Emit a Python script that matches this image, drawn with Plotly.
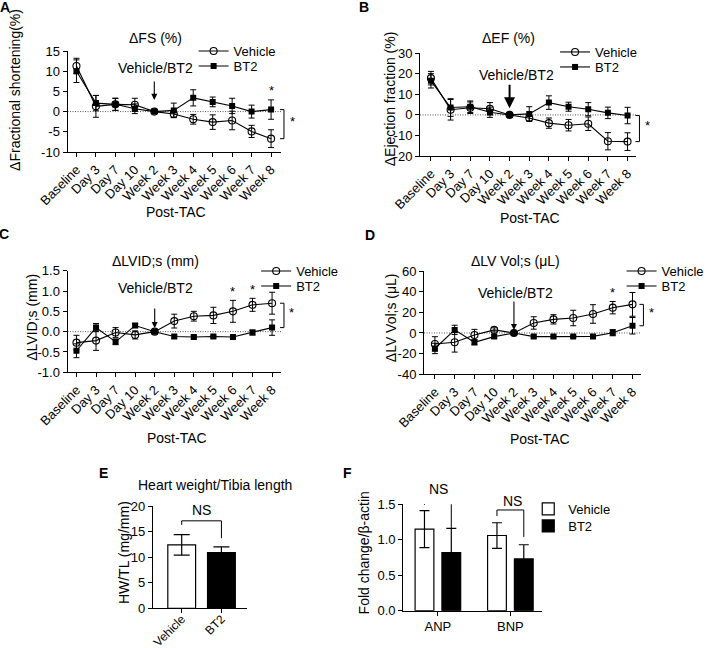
import plotly.graph_objects as go

W, H = 709, 648
FONT = "Liberation Sans, Arial, sans-serif"

# ---------------- data ----------------
timepoints = ["Baseline", "Day 3", "Day 7", "Day 10", "Week 2", "Week 3",
              "Week 4", "Week 5", "Week 6", "Week 7", "Week 8"]

fs_vehicle = [11.3, 1.3, 1.8, 1.7, 0.0, -0.6, -1.9, -2.6, -2.2, -4.9, -6.7]
fs_vehicle_err = [1.9, 2.7, 1.5, 1.6, 0.3, 0.8, 1.2, 1.8, 2.3, 1.5, 2.2]
fs_bt2 = [10.0, 2.1, 1.8, 0.7, 0.0, 0.3, 3.4, 2.4, 1.4, 0.0, 0.5]
fs_bt2_err = [2.8, 1.9, 1.5, 1.2, 0.3, 1.8, 2.0, 1.2, 1.9, 1.6, 2.4]

ef_vehicle = [17.9, 2.5, 3.5, 3.0, 0.0, -1.5, -4.0, -5.0, -4.3, -12.8, -13.0]
ef_vehicle_err = [3.3, 5.0, 2.8, 3.0, 0.5, 1.5, 2.5, 2.8, 3.3, 4.2, 4.3]
ef_bt2 = [16.6, 3.6, 4.0, 1.3, 0.0, 0.5, 6.0, 4.0, 2.8, 1.0, -0.3]
ef_bt2_err = [3.5, 4.3, 2.8, 2.5, 0.5, 3.5, 3.3, 2.2, 3.2, 2.8, 4.0]

lvid_vehicle = [-0.27, -0.22, -0.02, -0.08, 0.0, 0.26, 0.38, 0.40, 0.50, 0.66, 0.70]
lvid_vehicle_err = [0.18, 0.24, 0.12, 0.10, 0.02, 0.17, 0.12, 0.20, 0.27, 0.16, 0.27]
lvid_bt2 = [-0.47, 0.10, -0.25, 0.15, 0.0, -0.12, -0.13, -0.12, -0.13, -0.02, 0.10]
lvid_bt2_err = [0.17, 0.10, 0.07, 0.05, 0.02, 0.04, 0.04, 0.03, 0.04, 0.06, 0.19]

vol_vehicle = [-10.6, -9.0, -2.0, 3.0, 0.0, 9.7, 13.2, 14.5, 18.4, 24.5, 27.7]
vol_vehicle_err = [7.0, 9.5, 5.5, 2.0, 0.5, 6.0, 4.5, 7.5, 9.0, 6.0, 11.5]
vol_bt2 = [-15.0, 3.0, -9.0, -3.5, 0.0, -3.5, -3.5, -3.3, -3.3, 0.3, 7.0]
vol_bt2_err = [5.0, 4.5, 2.5, 1.5, 0.5, 1.5, 1.5, 1.0, 1.5, 3.0, 8.0]

hw_groups = ["Vehicle", "BT2"]
hw_means = [12.4, 10.9]
hw_err = [2.0, 1.1]

genes = ["ANP", "BNP"]
gene_vehicle = [1.15, 1.06]
gene_vehicle_err = [0.26, 0.18]
gene_bt2 = [0.82, 0.73]
gene_bt2_err = [0.34, 0.20]

fs_ticks = [-10, -5, 0, 5, 10, 15]
ef_ticks = [-20, -10, 0, 10, 20, 30]
lvid_ticks = [-1.0, -0.5, 0.0, 0.5, 1.0, 1.5]
vol_ticks = [-40, -20, 0, 20, 40, 60]
hw_ticks = [0, 5, 10, 15, 20]
gene_ticks = [0.0, 0.5, 1.0, 1.5]


def tick_text(vals, dec=0):
    return [(f"{v:.{dec}f}") for v in vals]


# ---------------- layout helpers (pixels -> paper) ----------------
def px(x):
    return x / W


def py(y):
    return 1 - y / H


def dom_x(a, b):
    return [a / W, b / W]


def dom_y(top, bottom):
    return [1 - bottom / H, 1 - top / H]


def cat_range(left, right, first, step):
    return [(left - first) / step, (right - first) / step]


panels = {
    "A": dict(ax="", left=68, right=283, first=77, step=19.6, top=51, bottom=152, yr=[-10, 15]),
    "B": dict(ax="2", left=423, right=641, first=434, step=19.8, top=53.3, bottom=156, yr=[-20, 30]),
    "C": dict(ax="3", left=68, right=283, first=77, step=19.7, top=270.7, bottom=372.3, yr=[-1, 1.5]),
    "D": dict(ax="4", left=427, right=646, first=438, step=19.9, top=271, bottom=374.3, yr=[-40, 60]),
    "E": dict(ax="5", left=154, right=249, first=183, step=40, top=506, bottom=608.3, yr=[0, 20]),
    "F": dict(ax="6", left=406, right=546, first=441, step=73, top=504.3, bottom=610.7, yr=[0, 1.5]),
}

tickfont = dict(family=FONT, size=13, color="black")
axis_common = dict(showline=True, linecolor="black", linewidth=1, ticks="outside",
                   ticklen=4, tickwidth=1, tickcolor="black", showgrid=False,
                   zeroline=False, tickfont=tickfont, fixedrange=True, automargin=False)

fig = go.Figure()
layout = dict(template="none", width=W, height=H, margin=dict(l=0, r=0, t=0, b=0, pad=0),
              autosize=False,
              paper_bgcolor="white", plot_bgcolor="rgba(0,0,0,0)",
              font=dict(family=FONT, size=14, color="black"),
              barmode="group", bargap=0.26, bargroupgap=0.3, showlegend=True)

yticks = {"A": (fs_ticks, 0), "B": (ef_ticks, 0), "C": (lvid_ticks, 1),
          "D": (vol_ticks, 0), "E": (hw_ticks, 0), "F": (gene_ticks, 1)}

for key, p in panels.items():
    xa = "xaxis" + p["ax"]
    ya = "yaxis" + p["ax"]
    xdict = dict(axis_common, domain=dom_x(p["left"], p["right"]),
                 range=cat_range(p["left"], p["right"], p["first"], p["step"]),
                 anchor="y" + p["ax"], type="category")
    if key in "ABCD":
        xdict.update(categoryorder="array", categoryarray=timepoints, tickangle=-45)
    elif key == "E":
        xdict.update(categoryorder="array", categoryarray=hw_groups, tickangle=-45,
                     ticklabelstandoff=-6,
                     tickfont=dict(family=FONT, size=12, color="black"))
    else:
        xdict.update(categoryorder="array", categoryarray=genes, tickangle=0)
    tv, dec = yticks[key]
    ydict = dict(axis_common, domain=dom_y(p["top"], p["bottom"]), range=p["yr"],
                 anchor="x" + p["ax"], tickvals=tv, ticktext=tick_text(tv, dec))
    layout[xa] = xdict
    layout[ya] = ydict

# ---------------- line panels ----------------
line_sets = [
    ("A", fs_vehicle, fs_vehicle_err, fs_bt2, fs_bt2_err),
    ("B", ef_vehicle, ef_vehicle_err, ef_bt2, ef_bt2_err),
    ("C", lvid_vehicle, lvid_vehicle_err, lvid_bt2, lvid_bt2_err),
    ("D", vol_vehicle, vol_vehicle_err, vol_bt2, vol_bt2_err),
]

# legend text-start x and item centre y (pixels)
legend_pos = {
    "A": (235, 51, 66),
    "B": (599, 52, 67),
    "C": (298, 271, 286),
    "D": (666, 271, 286),
}

shapes = []
annotations = []
legend_count = [1]


def new_legend(x_text, y_center, gap=40):
    legend_count[0] += 1
    name = f"legend{legend_count[0]}"
    layout[name] = dict(x=px(x_text - gap), y=py(y_center), xanchor="left", yanchor="middle",
                        bgcolor="rgba(0,0,0,0)", borderwidth=0,
                        font=dict(family=FONT, size=13, color="black"),
                        itemclick=False, itemdoubleclick=False)
    return name


for key, veh, veh_e, bt, bt_e in line_sets:
    ax = panels[key]["ax"]
    xt, yv, yb = legend_pos[key]
    lg1 = new_legend(xt, yv)
    lg2 = new_legend(xt, yb)
    fig.add_trace(go.Scatter(
        x=timepoints, y=veh, name="Vehicle", mode="lines+markers",
        xaxis="x" + ax, yaxis="y" + ax, legend=lg1,
        line=dict(color="black", width=1.1),
        marker=dict(symbol="circle-open", size=7, color="black", line=dict(width=1.1)),
        error_y=dict(type="data", array=veh_e, color="black", thickness=1, width=3)))
    fig.add_trace(go.Scatter(
        x=timepoints, y=bt, name="BT2", mode="lines+markers",
        xaxis="x" + ax, yaxis="y" + ax, legend=lg2,
        line=dict(color="black", width=1.1),
        marker=dict(symbol="square", size=6, color="black"),
        error_y=dict(type="data", array=bt_e, color="black", thickness=1, width=3)))
    # dotted zero line
    shapes.append(dict(type="line", xref=f"x{ax} domain", yref=f"y{ax}", x0=0, x1=1,
                       y0=0, y1=0, layer="below",
                       line=dict(color="#555555", width=1, dash="1px,1.5px")))


def ann(**kw):
    base = dict(showarrow=False, xanchor="center", yanchor="middle", font=dict(size=14))
    base.update(kw)
    annotations.append(base)


# ---------------- bracket helpers ----------------
def side_bracket(key, x_px, tick_px, ya_val, yb_val, star_px):
    p = panels[key]
    ax = p["ax"]
    span = p["right"] - p["left"]
    xv = (x_px - p["left"]) / span
    xt = (x_px - tick_px - p["left"]) / span
    line = dict(color="black", width=1)
    shapes.append(dict(type="line", xref=f"x{ax} domain", yref=f"y{ax}",
                       x0=xv, x1=xv, y0=ya_val, y1=yb_val, line=line))
    for yy in (ya_val, yb_val):
        shapes.append(dict(type="line", xref=f"x{ax} domain", yref=f"y{ax}",
                           x0=xt, x1=xv, y0=yy, y1=yy, line=line))
    ann(text="*", xref=f"x{ax} domain", yref=f"y{ax}",
        x=(star_px - p["left"]) / span, y=(ya_val + yb_val) / 2,
        yshift=3, font=dict(size=13))


side_bracket("A", 286, 4, fs_bt2[-1], fs_vehicle[-1], 295)
side_bracket("B", 644, 4, ef_bt2[-1], ef_vehicle[-1], 652)
side_bracket("C", 286, 4, lvid_vehicle[-1], lvid_bt2[-1], 294)
side_bracket("D", 648, 4, vol_vehicle[-1], vol_bt2[-1], 656)


def point_star(key, idx, means, errs):
    ax = panels[key]["ax"]
    ann(text="*", xref=f"x{ax}", yref=f"y{ax}", x=timepoints[idx],
        y=means[idx] + errs[idx], yshift=9, font=dict(size=13))


point_star("A", 10, fs_bt2, fs_bt2_err)
point_star("C", 8, lvid_vehicle, lvid_vehicle_err)
point_star("C", 9, lvid_vehicle, lvid_vehicle_err)
point_star("D", 9, vol_vehicle, vol_vehicle_err)

# ---------------- Vehicle/BT2 treatment arrows ----------------
arrow_specs = [
    # panel, tip value, arrow length px, text centre (px), arrow width
    ("A", 2.9, 20, (157, 68), 1.1),
    ("B", 3.3, 25, (520, 75), 2.0),
    ("C", 0.09, 21, (157, 288), 1.1),
    ("D", 2.9, 30, (519, 293), 1.1),
]
for key, tip, length, (tx, ty), aw in arrow_specs:
    ax = panels[key]["ax"]
    annotations.append(dict(text="", xref=f"x{ax}", yref=f"y{ax}", x=timepoints[4], y=tip,
                            ax=0, ay=-length, showarrow=True, arrowhead=2, arrowsize=1.1,
                            arrowwidth=aw, arrowcolor="black"))
    ann(text="Vehicle/BT2", xref="paper", yref="paper", x=px(tx), y=py(ty))

# ---------------- E: heart weight bars ----------------
fig.add_trace(go.Bar(
    x=hw_groups, y=hw_means, xaxis="x5", yaxis="y5", showlegend=False, width=0.7,
    marker=dict(color=["white", "black"], line=dict(color="black", width=1.2)),
    error_y=dict(type="data", array=hw_err, color="black", thickness=1.2, width=8)))

# NS bracket for E
shapes.append(dict(type="path", xref="x5", yref="y5",
                   path="M 0,16.3 L 0,17.1 L 1,17.1 L 1,13.7",
                   line=dict(color="black", width=1)))
ann(text="NS", xref="paper", yref="paper", x=px(203), y=py(510))

# ---------------- F: gene expression bars ----------------
lgv = new_legend(572, 509)
lgb = new_legend(572, 526)
fig.add_trace(go.Bar(
    x=genes, y=gene_vehicle, name="Vehicle", xaxis="x6", yaxis="y6", legend=lgv,
    marker=dict(color="white", line=dict(color="black", width=1.2)),
    error_y=dict(type="data", array=gene_vehicle_err, color="black", thickness=1.2, width=5)))
fig.add_trace(go.Bar(
    x=genes, y=gene_bt2, name="BT2", xaxis="x6", yaxis="y6", legend=lgb,
    marker=dict(color="black", line=dict(color="black", width=1.2)),
    error_y=dict(type="data", array=gene_bt2_err, color="black", thickness=1.2, width=5)))

shapes.append(dict(type="path", xref="x6", yref="y6",
                   path="M -0.185,1.49 L -0.185,1.594 L 0.185,1.594 L 0.185,1.16",
                   line=dict(color="black", width=1)))
shapes.append(dict(type="path", xref="x6", yref="y6",
                   path="M 0.815,1.335 L 0.815,1.42 L 1.185,1.42 L 1.185,1.04",
                   line=dict(color="black", width=1)))
ann(text="NS", xref="paper", yref="paper", x=px(442), y=py(489))
ann(text="NS", xref="paper", yref="paper", x=px(516), y=py(501))

# ---------------- titles, axis titles, panel letters ----------------
titles = [
    ("\u0394FS (%)", 157, 38),
    ("\u0394EF (%)", 512, 38),
    ("\u0394LVID;s (mm)", 157, 261),
    ("\u0394LV Vol;s (\u03bcL)", 519, 261),
    ("Heart weight/Tibia length", 217, 485),
    ("Post-TAC", 177, 212),
    ("Post-TAC", 534, 218),
    ("Post-TAC", 178, 438),
    ("Post-TAC", 544, 439),
]
for t, x, y in titles:
    ann(text=t, xref="paper", yref="paper", x=px(x), y=py(y))

ytitles = [
    ("\u0394Fractional shortening(%)", 15, 90),
    ("\u0394Ejection fraction (%)", 393, 99),
    ("\u0394LVID;s (mm)", 32, 317),
    ("\u0394LV Vol;s (\u03bcL)", 394, 318),
    ("HW/TL (mg/mm)", 125, 553),
    ("Fold change/\u03b2-actin", 367, 553),
]
for t, x, y in ytitles:
    ann(text=t, xref="paper", yref="paper", x=px(x), y=py(y), textangle=-90)

letters = [("A", 5, 7), ("B", 367, 7), ("C", 4, 234), ("D", 373, 235),
           ("E", 104, 473), ("F", 350, 473)]
for t, x, y in letters:
    ann(text=f"<b>{t}</b>", xref="paper", yref="paper", x=px(x), y=py(y))

layout["shapes"] = shapes
layout["annotations"] = annotations
fig.update_layout(**layout)
fig.write_html("out.html", config={"displayModeBar": False, "staticPlot": True},
               post_script="document.body.style.margin='0';")
